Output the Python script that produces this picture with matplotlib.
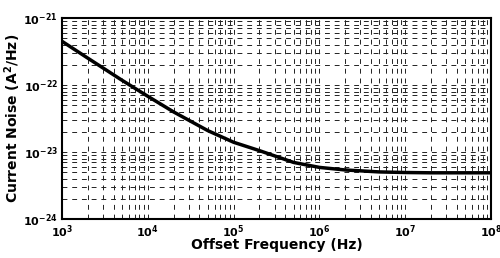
import matplotlib
matplotlib.use("Agg")
import matplotlib.pyplot as plt
from matplotlib.ticker import LogLocator, NullFormatter

# values
freq = [1e3, 2e3, 5e3, 1e4, 2e4, 5e4, 1e5, 2e5, 5e5, 1e6, 2e6, 5e6, 1e7, 2e7, 5e7, 1e8]
noise = [4.5e-22, 2.52e-22, 1.18e-22, 6.8e-23, 3.97e-23, 2.09e-23, 1.4e-23, 1.05e-23,
         7.0e-24, 5.9e-24, 5.4e-24, 5.05e-24, 4.95e-24, 4.9e-24, 4.9e-24, 4.9e-24]

xlim = (1e3, 1e8)
ylim = (1e-24, 1e-21)

plt.rcParams['font.family'] = ['DejaVu Sans']
plt.rcParams['font.weight'] = 'bold'
plt.rcParams['mathtext.default'] = 'bf'

fig = plt.figure(figsize=(5, 2.58), dpi=100)
ax = fig.add_axes([0.124, 0.151, 0.858, 0.779])

ax.plot(freq, noise, color='black', linewidth=2.5, solid_capstyle='butt')
ax.set_xscale('log')
ax.set_yscale('log')
ax.set_xlim(*xlim)
ax.set_ylim(*ylim)

ax.xaxis.set_minor_locator(LogLocator(base=10, subs=range(2, 10)))
ax.yaxis.set_minor_locator(LogLocator(base=10, subs=range(2, 10)))
ax.xaxis.set_minor_formatter(NullFormatter())
ax.yaxis.set_minor_formatter(NullFormatter())

# dashed grid at every major and minor position
ax.grid(which='both', color='#222222', linestyle=(0, (5, 5)), linewidth=0.7)

ax.tick_params(which='both', direction='in', length=0, labelsize=8, pad=3)
for s in ax.spines.values():
    s.set_linewidth(1.5)

ax.set_xlabel('Offset Frequency (Hz)', fontsize=10, fontweight='bold', labelpad=-1)
ax.set_ylabel('Current Noise (A$^2$/Hz)', fontsize=10, fontweight='bold', labelpad=0)

fig.savefig('out.png', dpi=100)
